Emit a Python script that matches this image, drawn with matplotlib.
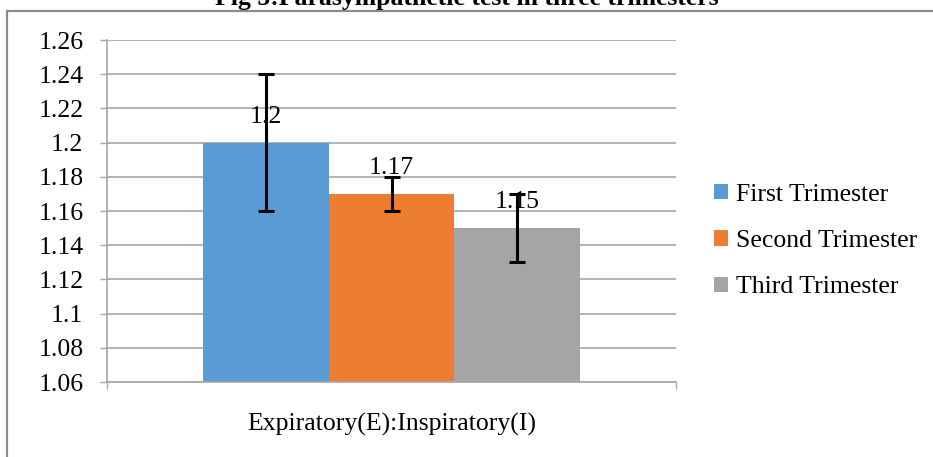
import matplotlib
matplotlib.use("Agg")
import matplotlib.pyplot as plt
from matplotlib.patches import Rectangle

plt.rcParams['font.family'] = ['Liberation Serif', 'DejaVu Serif']

# data
category = "Expiratory(E):Inspiratory(I)"
series = ["First Trimester", "Second Trimester", "Third Trimester"]
values = [1.20, 1.17, 1.15]
errors = [0.04, 0.01, 0.02]
labels = ["1.2", "1.17", "1.15"]
colors = ["#5B9BD5", "#ED7D31", "#A5A5A5"]
yticks = [1.06, 1.08, 1.10, 1.12, 1.14, 1.16, 1.18, 1.20, 1.22, 1.24, 1.26]
ytick_labels = ["1.06", "1.08", "1.1", "1.12", "1.14", "1.16", "1.18", "1.2", "1.22", "1.24", "1.26"]

W, H = 933, 457
fig = plt.figure(figsize=(W / 100, H / 100), dpi=100)
ax = fig.add_axes([107 / W, 1 - 382 / H, 569 / W, 342 / H])

grid_c = "#A6A6A6"
fs = 18.5
bw = 0.2214
offsets = [-bw, 0, bw]
handles = []
for off, v, e, c, name, lab in zip(offsets, values, errors, colors, series, labels):
    b = ax.bar(off, v - 1.06, bottom=1.06, width=bw, color=c, label=name, zorder=2)
    handles.append(b)
    ax.errorbar(off, v, yerr=e, color="black", lw=2.2, capsize=6, capthick=2.2, zorder=3)
    ax.annotate(lab, (off, v), xytext=(0, 18.5), textcoords="offset points",
                ha="center", va="center", fontsize=fs, zorder=4)

ax.set_xlim(-0.5, 0.5)
ax.set_ylim(1.06, 1.26)
ax.set_yticks(yticks)
ax.set_yticklabels(ytick_labels, fontsize=fs)
ax.yaxis.grid(True, color=grid_c, lw=1.2, zorder=0)
ax.set_axisbelow(True)
ax.tick_params(axis="y", length=5, width=1, color=grid_c, pad=12)

ax.set_xticks([0])
ax.set_xticklabels([category], fontsize=fs)
ax.set_xticks([-0.5, 0.5], minor=True)
ax.tick_params(axis="x", which="major", length=0, pad=22)
ax.tick_params(axis="x", which="minor", length=5, width=1, color=grid_c)

for s in ["top", "right"]:
    ax.spines[s].set_visible(False)
for s in ["left", "bottom"]:
    ax.spines[s].set_color(grid_c)
    ax.spines[s].set_linewidth(1.2)

fig.legend(handles=handles, labels=series, loc="center left",
           bbox_to_anchor=(714 / W, 1 - 241 / H), frameon=False, fontsize=fs,
           handlelength=0.55, handleheight=0.55, handletextpad=0.3,
           labelspacing=0.95, borderpad=0, borderaxespad=0)

# chart border (extends past the right and bottom of the image)
fig.add_artist(Rectangle((7 / W, -0.5), 2, 0.5 + 1 - 11 / H, transform=fig.transFigure,
                         fill=False, edgecolor="#8C8C8C", lw=1.6))

fig.text(0.5, 1 - 5 / H, "Fig 5:Parasympathetic test in three trimesters",
         ha="center", va="baseline", fontsize=18.5, fontweight="bold")

fig.savefig("out.png", dpi=100)
